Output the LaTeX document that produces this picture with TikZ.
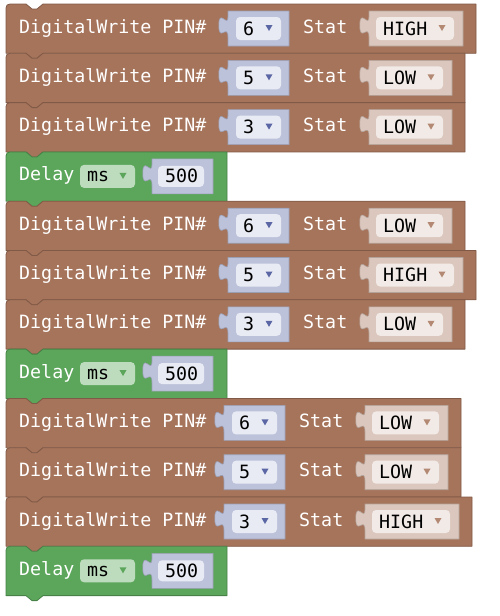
\documentclass[tikz,border=0pt]{standalone}
\usepackage{fontspec}
\setmonofont{DejaVu Sans Mono}
\definecolor{ioblock}{HTML}{A6745B}
\definecolor{ioslot}{HTML}{DBC7BD}
\definecolor{iofield}{HTML}{F2EAE6}
\definecolor{timeblock}{HTML}{5BA65B}
\definecolor{timefield}{HTML}{BDDBBD}
\definecolor{numslot}{HTML}{BDC2DB}
\definecolor{numfield}{HTML}{E9EBF4}
\definecolor{numarrow}{HTML}{5B67A5}

% statement block: top edge #1, right edge #2, colour #3
\newcommand{\blockbody}[3]{%
  \path[block, fill=#3, draw=#3!78!black]
    (6,#1+4) .. controls (6,#1+1.5) and (7.5,#1) .. (10,#1)
    -- (26,#1) -- (32,#1+5) -- (37,#1+5) -- (43,#1) -- (#2,#1)
    -- (#2,#1+49.3) -- (43,#1+49.3) -- (37,#1+54.3) -- (32,#1+54.3)
    -- (26,#1+49.3) -- (6,#1+49.3) -- cycle;}

% value input with puzzle tab: left #1, right #2, block top #3, colour #4
\newcommand{\valueslot}[4]{%
  \path[fill=#4, draw=#4!82!black, line width=0.6]
    (#1,#3+7) -- (#2,#3+7) -- (#2,#3+42) -- (#1,#3+42) -- (#1,#3+33.5)
    .. controls (#1,#3+18.5) and (#1-9.2,#3+39.2) .. (#1-9.2,#3+21.4)
    .. controls (#1-9.2,#3+3.6) and (#1,#3+24.3) .. (#1,#3+12.8) -- cycle;}

% dropdown field: left #1, right #2, block top #3, colour #4, arrow #5
\newcommand{\dropfield}[5]{%
  \path[fill=#4, rounded corners=4] (#1,#3+13) rectangle (#2,#3+36);
  \fill[#5] (#2-15.5,#3+21) -- (#2-8.5,#3+21) -- (#2-12,#3+27) -- cycle;}

% DigitalWrite: name, top, pin, level, level field width, x shift
\newcommand{\pinblock}[6]{%
  \blockbody{#2}{398+#6+#5}{ioblock}
  \node[lbl] (#1-dw) at (19,#2+29) {DigitalWrite PIN\#};
  \valueslot{228+#6}{289+#6}{#2}{numslot}
  \dropfield{236+#6}{281+#6}{#2}{numfield}{numarrow}
  \node[val] (#1-pin) at (243+#6,#2+31) {#3};
  \node[lbl] (#1-st) at (303+#6,#2+29) {Stat};
  \valueslot{369+#6}{385+#6+#5}{#2}{ioslot}
  \dropfield{376+#6}{376+#6+#5}{#2}{iofield}{ioblock!85!white}
  \node[val] (#1-lvl) at (383+#6,#2+31) {#4};}

% Delay: name, top
\newcommand{\delayblock}[2]{%
  \blockbody{#2}{227}{timeblock}
  \node[lbl] (#1-lbl) at (19,#2+29) {Delay};
  \dropfield{80}{135}{#2}{timefield}{timeblock}
  \node[val] (#1-unit) at (87,#2+30) {ms};
  \valueslot{152}{213}{#2}{numslot}
  \path[fill=numfield, rounded corners=4] (158,#2+14) rectangle (204,#2+35);
  \node[val] (#1-ms) at (165,#2+31) {500};}

\begin{document}
\begin{tikzpicture}[
  x=1pt, y=-1pt,
  block/.style={line width=0.8, line join=round},
  lbl/.style={anchor=base west, inner sep=0, text=white,
              font=\ttfamily\fontsize{18.3}{20}\selectfont},
  val/.style={lbl, text=black}
]
  \useasboundingbox (0,0) rectangle (499,616);

  % first step
  \pinblock{a1}{4}{6}{HIGH}{78}{0}
  \pinblock{a2}{53.3}{5}{LOW}{67}{0}
  \pinblock{a3}{102.6}{3}{LOW}{67}{0}
  \delayblock{d1}{151.9}

  % second step
  \pinblock{b1}{201.2}{6}{LOW}{67}{0}
  \pinblock{b2}{250.5}{5}{HIGH}{78}{0}
  \pinblock{b3}{299.8}{3}{LOW}{67}{0}
  \delayblock{d2}{349.1}

  % third step
  \pinblock{c1}{398.4}{6}{LOW}{67}{-4}
  \pinblock{c2}{447.7}{5}{LOW}{67}{-4}
  \pinblock{c3}{497.0}{3}{HIGH}{78}{-4}
  \delayblock{d3}{546.3}
\end{tikzpicture}
\end{document}
